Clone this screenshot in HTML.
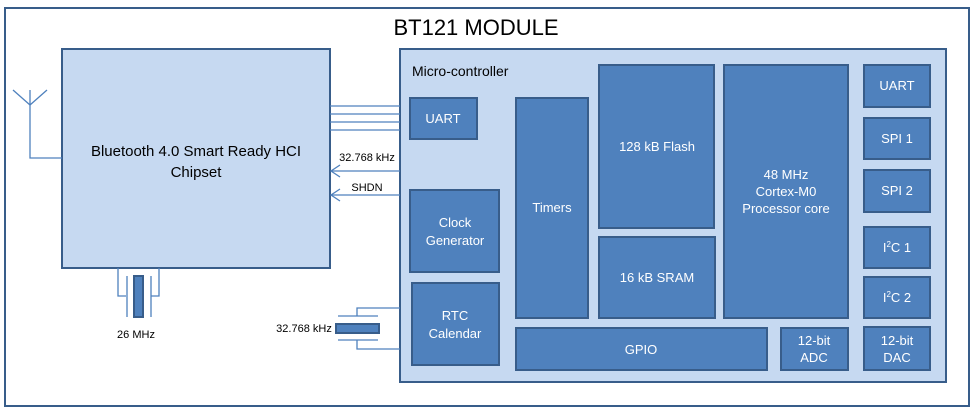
<!DOCTYPE html>
<html><head><meta charset="utf-8"><style>
html,body{margin:0;padding:0;background:#fff;}
svg{display:block;font-family:"Liberation Sans",Arial,sans-serif;}
.b{fill:#4f81bd;stroke:#385d8a;stroke-width:2;}
.t{fill:#fff;font-size:13px;text-anchor:middle;}
.l{stroke:#4f81bd;stroke-width:1.3;fill:none;}
</style></head><body>
<svg width="974" height="413" viewBox="0 0 974 413">
<rect x="5" y="8" width="964" height="398" fill="#fff" stroke="#385d8a" stroke-width="2"/>
<text x="476" y="35" font-size="22" text-anchor="middle" fill="#000" font-family="Liberation Sans, sans-serif">BT121 MODULE</text>
<!-- chipset -->
<rect x="62" y="49" width="268" height="219" fill="#c6d9f1" stroke="#385d8a" stroke-width="2"/>
<text x="196" y="156" font-size="15" text-anchor="middle">Bluetooth 4.0 Smart Ready HCI</text>
<text x="196" y="177" font-size="15" text-anchor="middle">Chipset</text>
<!-- MCU -->
<rect x="400" y="49" width="546" height="333" fill="#c6d9f1" stroke="#385d8a" stroke-width="2"/>
<text x="412" y="76" font-size="14">Micro-controller</text>
<!-- bus lines -->
<g class="l"><line x1="330" y1="106" x2="400" y2="106"/><line x1="330" y1="114" x2="400" y2="114"/><line x1="330" y1="122" x2="400" y2="122"/><line x1="330" y1="130" x2="400" y2="130"/>
<line x1="331" y1="171" x2="400" y2="171"/><polyline points="340,165 331,171 340,177"/>
<line x1="331" y1="195" x2="400" y2="195"/><polyline points="340,189 331,195 340,201"/>
<!-- antenna -->
<polyline points="13,90 30,105 47,90"/><polyline points="30,90 30,158 62,158"/>
<!-- 26MHz -->
<polyline points="118,268 118,296 126,296"/><polyline points="159,268 159,296 151,296"/>
<line x1="127" y1="276" x2="127" y2="317"/><line x1="151" y1="276" x2="151" y2="317"/>
<!-- 32k crystal -->
<polyline points="400,308 357,308 357,316"/><polyline points="400,349 357,349 357,340"/>
<line x1="338" y1="316" x2="378" y2="316"/><line x1="338" y1="340" x2="378" y2="340"/>
</g>
<rect x="134" y="276" width="9" height="41" class="b"/>
<rect x="336" y="324" width="43" height="9" class="b"/>
<text x="136" y="338" font-size="11" text-anchor="middle">26 MHz</text>
<text x="304" y="332" font-size="11" text-anchor="middle">32.768 kHz</text>
<text x="367" y="161" font-size="11" text-anchor="middle">32.768 kHz</text>
<text x="367" y="191" font-size="11" text-anchor="middle">SHDN</text>
<!-- blocks -->
<rect class="b" x="410" y="98" width="67" height="41"/><text class="t" x="443" y="123">UART</text>
<rect class="b" x="410" y="190" width="89" height="82"/><text class="t" x="455" y="227">Clock</text><text class="t" x="455" y="245">Generator</text>
<rect class="b" x="412" y="283" width="87" height="82"/><text class="t" x="455" y="320">RTC</text><text class="t" x="455" y="338">Calendar</text>
<rect class="b" x="516" y="98" width="72" height="220"/><text class="t" x="552" y="212">Timers</text>
<rect class="b" x="599" y="65" width="115" height="163"/><text class="t" x="657" y="151">128 kB Flash</text>
<rect class="b" x="599" y="237" width="116" height="81"/><text class="t" x="657" y="282">16 kB SRAM</text>
<rect class="b" x="724" y="65" width="124" height="253"/><text class="t" x="786" y="179">48 MHz</text><text class="t" x="786" y="196">Cortex-M0</text><text class="t" x="786" y="213">Processor core</text>
<rect class="b" x="864" y="65" width="66" height="42"/><text class="t" x="897" y="90">UART</text>
<rect class="b" x="864" y="118" width="66" height="41"/><text class="t" x="897" y="143">SPI 1</text>
<rect class="b" x="864" y="170" width="66" height="42"/><text class="t" x="897" y="195">SPI 2</text>
<rect class="b" x="864" y="227" width="66" height="41"/><text class="t" x="897" y="252">I<tspan font-size="8" dy="-5">2</tspan><tspan dy="5">C 1</tspan></text>
<rect class="b" x="864" y="277" width="66" height="41"/><text class="t" x="897" y="302">I<tspan font-size="8" dy="-5">2</tspan><tspan dy="5">C 2</tspan></text>
<rect class="b" x="864" y="327" width="66" height="43"/><text class="t" x="897" y="345">12-bit</text><text class="t" x="897" y="362">DAC</text>
<rect class="b" x="516" y="328" width="251" height="42"/><text class="t" x="641" y="354">GPIO</text>
<rect class="b" x="781" y="328" width="67" height="42"/><text class="t" x="814" y="345">12-bit</text><text class="t" x="814" y="362">ADC</text>
</svg>
</body></html>
